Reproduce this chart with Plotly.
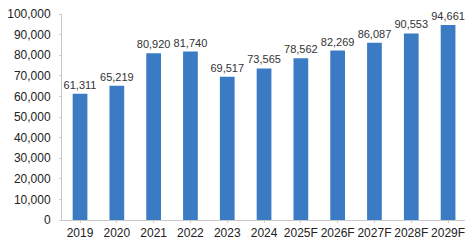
import plotly.graph_objects as go

categories = ["2019", "2020", "2021", "2022", "2023", "2024", "2025F", "2026F", "2027F", "2028F", "2029F"]
values = [61311, 65219, 80920, 81740, 69517, 73565, 78562, 82269, 86087, 90553, 94661]
y_ticks = list(range(0, 100001, 10000))
y_tick_labels = [f"{v:,}" for v in y_ticks]

fig = go.Figure(go.Bar(
    x=categories, y=values,
    marker=dict(color="#3a7bc4", line=dict(width=0)),
    text=[f"{v:,}" for v in values],
    textposition="outside",
    constraintext="none",
    textfont=dict(family="Liberation Sans, Arial", size=11, color="#333333"),
    cliponaxis=False,
))

fig.update_layout(
    width=465, height=247,
    margin=dict(l=62, r=0, t=14, b=27),
    paper_bgcolor="white", plot_bgcolor="white",
    bargap=0.6,
    showlegend=False,
    font=dict(family="Liberation Sans, Arial", size=12, color="#333333"),
)
fig.update_xaxes(
    type="category", range=[-0.49, 10.46],
    showline=True, linecolor="#c8c8c8", linewidth=1,
    ticks="outside", ticklen=2, tickcolor="#d0d0d0",
    showgrid=False, tickfont=dict(size=12, color="#222222"),
)
fig.update_yaxes(
    range=[0, 100000], tickvals=y_ticks, ticktext=y_tick_labels,
    showline=True, linecolor="#c8c8c8", linewidth=1,
    ticks="outside", ticklen=2, tickcolor="#d0d0d0",
    ticklabelstandoff=6,
    showgrid=False, zeroline=False, tickfont=dict(size=12, color="#222222"),
)

fig.write_html(
    "out.html",
    config={"displayModeBar": False},
    post_script="document.body.style.margin='0';document.body.style.padding='0';",
)
